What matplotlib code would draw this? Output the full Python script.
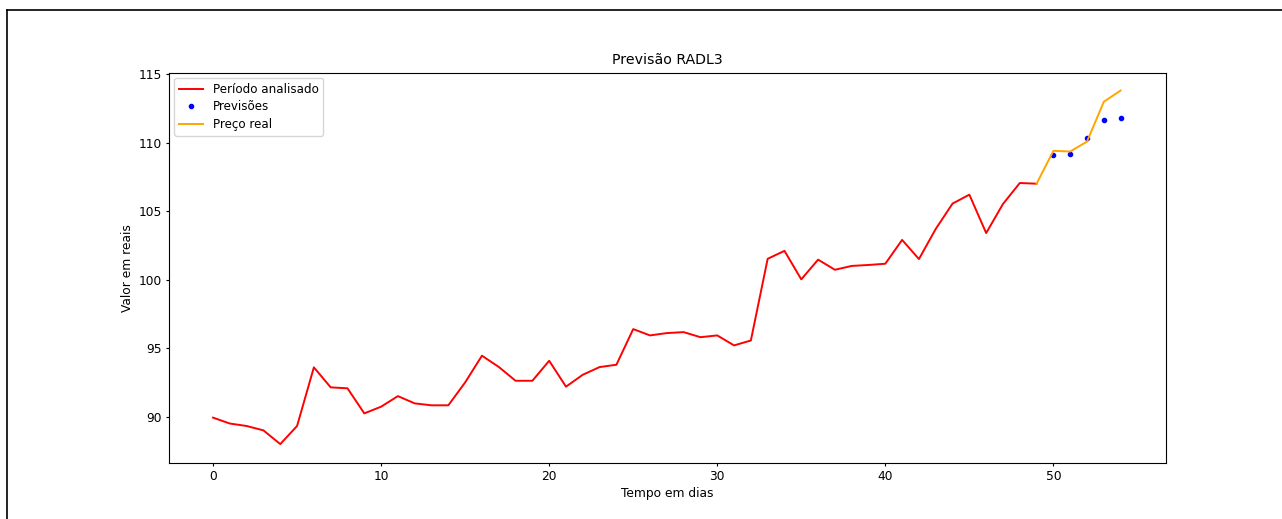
import matplotlib
matplotlib.use("Agg")
import matplotlib.pyplot as plt
from matplotlib.lines import Line2D

# Observed period (days 0..49)
dias_periodo = list(range(0, 50))
precos_periodo = [
    89.93, 89.5, 89.32, 89.0, 88.0, 89.32, 93.6, 92.14, 92.07, 90.24,
    90.73, 91.5, 90.97, 90.83, 90.83, 92.5, 94.45, 93.63, 92.62, 92.62,
    94.08, 92.19, 93.06, 93.62, 93.79, 96.39, 95.93, 96.1, 96.17, 95.8,
    95.93, 95.2, 95.56, 101.52, 102.1, 100.02, 101.46, 100.72, 101.0, 101.07,
    101.16, 102.9, 101.5, 103.7, 105.55, 106.2, 103.4, 105.52, 107.05, 107.0,
]

# Predictions (days 50..54)
dias_previsao = [50, 51, 52, 53, 54]
previsoes = [109.12, 109.2, 110.33, 111.62, 111.82]

# Real price (days 49..54)
dias_real = [49, 50, 51, 52, 53, 54]
preco_real = [107.0, 109.4, 109.35, 110.07, 112.98, 113.8]

titulo = "Previsão RADL3"
rotulo_x = "Tempo em dias"
rotulo_y = "Valor em reais"

plt.rcParams['font.family'] = ['DejaVu Sans']
fs = 8.8

fig = plt.figure(figsize=(12.82, 5.19), dpi=100)
ax = fig.add_axes([169 / 1282, 1 - 463 / 519, (1166 - 169) / 1282, (463 - 72.7) / 519])

ax.plot(dias_periodo, precos_periodo, color='red', lw=1.4, label='Período analisado')
ax.plot(dias_previsao, previsoes, 'b.', label='Previsões')
ax.plot(dias_real, preco_real, color='orange', lw=1.4, label='Preço real')

ax.set_title(titulo, fontsize=10.2, pad=6)
ax.set_xlabel(rotulo_x, fontsize=fs, labelpad=2.5)
ax.set_ylabel(rotulo_y, fontsize=fs, labelpad=3)
ax.tick_params(labelsize=fs, length=2.5, pad=2.8)
ax.set_yticks([90, 95, 100, 105, 110, 115])
ax.set_xticks([0, 10, 20, 30, 40, 50])
ax.set_xlim(-2.62, 56.7)
ax.set_ylim(86.62, 115.1)
ax.legend(loc='upper left', fontsize=8.6, labelspacing=0.38, borderaxespad=0.45)

# page frame lines of the document screenshot
fig.add_artist(Line2D([7 / 1282, 1.0], [1 - 10 / 519, 1 - 10 / 519], color='black', lw=1.2,
                      transform=fig.transFigure))
fig.add_artist(Line2D([7 / 1282, 7 / 1282], [0.0, 1 - 10 / 519], color='black', lw=1.2,
                      transform=fig.transFigure))

fig.savefig('out.png', dpi=100)
